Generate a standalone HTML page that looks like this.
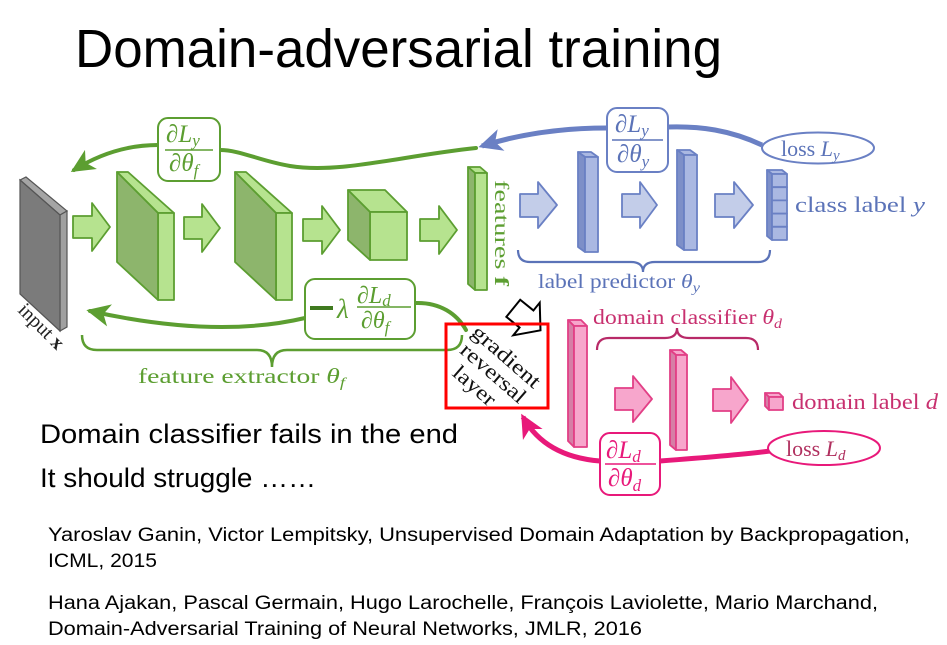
<!DOCTYPE html>
<html><head><meta charset="utf-8"><style>
html,body{margin:0;padding:0;background:#fff;}
svg{display:block;}
.s{font-family:"Liberation Sans",sans-serif;fill:#000;}
.m{font-family:"Liberation Serif",serif;}
.i{font-style:italic;}
</style></head><body>
<svg width="947" height="645" viewBox="0 0 947 645" xmlns="http://www.w3.org/2000/svg">
<defs>
<marker id="ag" markerUnits="userSpaceOnUse" markerWidth="30" markerHeight="30" refX="0" refY="0" viewBox="-20 -12 24 24" orient="auto"><path d="M3,0 L-16,-9 L-11,0 L-16,9 Z" fill="#5c9e31"/></marker>
<marker id="ab" markerUnits="userSpaceOnUse" markerWidth="30" markerHeight="30" refX="0" refY="0" viewBox="-20 -12 24 24" orient="auto"><path d="M3,0 L-16,-9 L-11,0 L-16,9 Z" fill="#6a80c4"/></marker>
<marker id="ap" markerUnits="userSpaceOnUse" markerWidth="30" markerHeight="30" refX="0" refY="0" viewBox="-20 -12 24 24" orient="auto"><path d="M3,0 L-16,-9 L-11,0 L-16,9 Z" fill="#e8197a"/></marker>
</defs>

<!-- Title -->
<text class="s" x="75" y="67" font-size="54" textLength="647" lengthAdjust="spacingAndGlyphs">Domain-adversarial training</text>

<!-- input plate -->
<polygon points="20,180 26,177 67,211 60,215" fill="#a5a5a5" stroke="#555" stroke-width="1.2"/>
<polygon points="60,215 67,211 67,327 60,331" fill="#a0a0a0" stroke="#555" stroke-width="1.2"/>
<polygon points="20,180 60,215 60,331 20,294" fill="#7b7b7b" stroke="#555" stroke-width="1.2"/>
<text class="m" transform="translate(17,311) rotate(45)" font-size="20" fill="#222">input <tspan font-weight="bold">x</tspan></text>

<!-- green blocks -->
<g stroke="#5c9e31" stroke-width="1.8" stroke-linejoin="round">
<polygon points="117,172 128,172 174,213 158,213" fill="#b6e38f"/>
<polygon points="158,213 174,213 174,300 158,300" fill="#b6e38f"/>
<polygon points="117,172 158,213 158,300 117,262" fill="#8db56c"/>
<polygon points="235,172 246,172 292,213 276,213" fill="#b6e38f"/>
<polygon points="276,213 292,213 292,300 276,300" fill="#b6e38f"/>
<polygon points="235,172 276,213 276,300 235,262" fill="#8db56c"/>
<polygon points="348,190 385,190 407,212 370,212" fill="#b6e38f"/>
<polygon points="370,212 407,212 407,260 370,260" fill="#b6e38f"/>
<polygon points="348,190 370,212 370,260 348,240" fill="#8db56c"/>
<!-- feature bar -->
<polygon points="468,167 480,167 487,173 475,173" fill="#b6e38f"/>
<polygon points="468,167 475,173 475,290 468,284" fill="#8db56c"/>
<polygon points="475,173 487,173 487,290 475,290" fill="#b6e38f"/>
<!-- green arrows -->
<polygon points="73,216 92,216 92,203 110,227 92,251 92,238 73,238" fill="#b6e38f"/>
<polygon points="184,217 202,217 202,204 220,228 202,252 202,239 184,239" fill="#b6e38f"/>
<polygon points="303,219 322,219 322,206 340,230 322,254 322,241 303,241" fill="#b6e38f"/>
<polygon points="420,219 439,219 439,206 457,230 439,254 439,241 420,241" fill="#b6e38f"/>
</g>
<text class="m" transform="translate(495,180) rotate(90)" font-size="20" fill="#5c9e31" textLength="106" lengthAdjust="spacingAndGlyphs">features <tspan font-weight="bold">f</tspan></text>

<!-- green backprop curves -->
<g fill="none" stroke="#5c9e31" stroke-width="4" stroke-linecap="round">
<path d="M476,148 C400,156 340,174 290,166 C260,161 240,150 220,150"/>
<path d="M158,145 C125,145 98,155 74,170" marker-end="url(#ag)"/>
<path d="M305,318 C250,331 180,331 90,311" marker-end="url(#ag)"/>
<path d="M415,303 C440,302 457,314 466,330"/>
</g>
<rect x="158" y="118" width="62" height="63" rx="10" fill="#fff" stroke="#5c9e31" stroke-width="2"/>
<g class="m" fill="#5c9e31">
<text x="166" y="142" font-size="25"><tspan>∂</tspan><tspan class="i">L</tspan><tspan class="i" font-size="17" dy="4">y</tspan></text>
<line x1="165" y1="150" x2="213" y2="150" stroke="#5c9e31" stroke-width="1.5"/>
<text x="169" y="171" font-size="25"><tspan>∂</tspan><tspan class="i">θ</tspan><tspan class="i" font-size="17" dy="5">f</tspan></text>
</g>
<rect x="305" y="279" width="110" height="60" rx="10" fill="#fff" stroke="#5c9e31" stroke-width="2"/>
<g class="m" fill="#5c9e31">
<rect x="310" y="306" width="23" height="4" fill="#3f7a1f"/>
<text x="337" y="318" font-size="27" class="i">λ</text>
<text x="357" y="303" font-size="24"><tspan>∂</tspan><tspan class="i">L</tspan><tspan class="i" font-size="17" dy="3">d</tspan></text>
<line x1="357" y1="307" x2="411" y2="307" stroke="#5c9e31" stroke-width="1.5"/>
<text x="361" y="328" font-size="24"><tspan>∂</tspan><tspan class="i">θ</tspan><tspan class="i" font-size="17" dy="5">f</tspan></text>
</g>

<!-- green brace -->
<path d="M82,335 Q82,350 97,350 L257,350 Q272,350 272,367 Q272,350 287,350 L447,350 Q462,350 462,335" fill="none" stroke="#5c9e31" stroke-width="2.5"/>
<text class="m" x="138" y="383" font-size="21" fill="#5c9e31" textLength="207" lengthAdjust="spacingAndGlyphs">feature extractor <tspan class="i">θ</tspan><tspan class="i" font-size="14" dy="4">f</tspan></text>

<!-- blue part -->
<g stroke="#6a80c4" stroke-width="1.8" stroke-linejoin="round">
<polygon points="520,194 538,194 538,182 557,205 538,228 538,217 520,217" fill="#c3cde9"/>
<polygon points="622,194 640,194 640,182 657,205 640,228 640,217 622,217" fill="#c3cde9"/>
<polygon points="715,194 734,194 734,182 753,205 734,228 734,217 715,217" fill="#c3cde9"/>
<polygon points="578,152 591,152 598,157 585,157" fill="#aab8e2"/>
<polygon points="578,152 585,157 585,252 578,247" fill="#7d8fc8"/>
<polygon points="585,157 598,157 598,252 585,252" fill="#aab8e2"/>
<polygon points="677,150 690,150 697,155 684,155" fill="#aab8e2"/>
<polygon points="677,150 684,155 684,250 677,245" fill="#7d8fc8"/>
<polygon points="684,155 697,155 697,250 684,250" fill="#aab8e2"/>
<polygon points="767,170 782,170 787,174 772,174" fill="#aab8e2"/>
<polygon points="767,170 772,174 772,240 767,236" fill="#7d8fc8"/>
<rect x="772" y="174" width="15" height="13.2" fill="#aab8e2"/>
<rect x="772" y="187.2" width="15" height="13.2" fill="#aab8e2"/>
<rect x="772" y="200.4" width="15" height="13.2" fill="#aab8e2"/>
<rect x="772" y="213.6" width="15" height="13.2" fill="#aab8e2"/>
<rect x="772" y="226.8" width="15" height="13.2" fill="#aab8e2"/>
</g>
<text class="m" x="795" y="212" font-size="22" fill="#5b73b8" textLength="130" lengthAdjust="spacingAndGlyphs">class label <tspan class="i">y</tspan></text>
<path d="M762,145 C730,130 700,126 668,127" fill="none" stroke="#6a80c4" stroke-width="5"/>
<path d="M607,128 C560,128 520,134 482,146" fill="none" stroke="#6a80c4" stroke-width="5" marker-end="url(#ab)"/>
<rect x="607" y="108" width="61" height="64" rx="10" fill="#fff" stroke="#6a80c4" stroke-width="2"/>
<g class="m" fill="#5b73b8">
<text x="615" y="132" font-size="25"><tspan>∂</tspan><tspan class="i">L</tspan><tspan class="i" font-size="17" dy="4">y</tspan></text>
<line x1="612" y1="140" x2="663" y2="140" stroke="#5b73b8" stroke-width="1.5"/>
<text x="617" y="162" font-size="25"><tspan>∂</tspan><tspan class="i">θ</tspan><tspan class="i" font-size="17" dy="5">y</tspan></text>
</g>
<ellipse cx="818" cy="148" rx="56" ry="15.5" fill="#fff" stroke="#6a80c4" stroke-width="2"/>
<text class="m" x="781" y="156" font-size="22" fill="#5b73b8">loss <tspan class="i">L</tspan><tspan class="i" font-size="15" dy="4">y</tspan></text>
<path d="M518,250 Q518,262 530,262 L631,262 Q643,262 643,272 Q643,262 655,262 L758,262 Q770,262 770,250" fill="none" stroke="#5b73b8" stroke-width="2.2"/>
<text class="m" x="538" y="288" font-size="20" fill="#5b73b8" textLength="162" lengthAdjust="spacingAndGlyphs">label predictor <tspan class="i">θ</tspan><tspan class="i" font-size="14" dy="4">y</tspan></text>

<!-- pink part -->
<g stroke="#e23f86" stroke-width="1.8" stroke-linejoin="round">
<polygon points="568,320 581,320 587,326 574,326" fill="#f7a6cc"/>
<polygon points="568,320 574,326 574,447 568,441" fill="#d67ea6"/>
<polygon points="574,326 587,326 587,447 574,447" fill="#f7a6cc"/>
<polygon points="670,350 681,350 687,355 676,355" fill="#f7a6cc"/>
<polygon points="670,350 676,355 676,450 670,445" fill="#d67ea6"/>
<polygon points="676,355 687,355 687,450 676,450" fill="#f7a6cc"/>
<polygon points="615,388 633,388 633,376 652,399 633,422 633,410 615,410" fill="#f7a6cc"/>
<polygon points="713,389 731,389 731,377 748,400 731,423 731,411 713,411" fill="#f7a6cc"/>
<polygon points="765,393 779,393 783,397 769,397" fill="#f7a6cc"/>
<polygon points="765,393 769,397 769,410 765,406" fill="#d67ea6"/>
<rect x="769" y="397" width="14" height="13" fill="#f7a6cc"/>
</g>
<text class="m" x="593" y="324" font-size="21" fill="#c8306f" textLength="189" lengthAdjust="spacingAndGlyphs">domain classifier <tspan class="i">θ</tspan><tspan class="i" font-size="14" dy="4">d</tspan></text>
<path d="M597,350 Q597,338 609,338 L665,338 Q677,338 677,328 Q677,338 689,338 L746,338 Q758,338 758,350" fill="none" stroke="#b82a68" stroke-width="2.2"/>
<text class="m" x="792" y="409" font-size="22" fill="#c8306f" textLength="146" lengthAdjust="spacingAndGlyphs">domain label <tspan class="i">d</tspan></text>
<path d="M770,451 C740,455 700,458 660,461" fill="none" stroke="#e8197a" stroke-width="5"/>
<path d="M600,461 C562,458 537,442 523,417" fill="none" stroke="#e8197a" stroke-width="5" marker-end="url(#ap)"/>
<rect x="600" y="433" width="60" height="62" rx="10" fill="#fff" stroke="#e8197a" stroke-width="2"/>
<g class="m" fill="#e8197a">
<text x="606" y="458" font-size="25"><tspan>∂</tspan><tspan class="i">L</tspan><tspan class="i" font-size="17" dy="4">d</tspan></text>
<line x1="605" y1="464" x2="656" y2="464" stroke="#e8197a" stroke-width="1.5"/>
<text x="608" y="486" font-size="25"><tspan>∂</tspan><tspan class="i">θ</tspan><tspan class="i" font-size="17" dy="5">d</tspan></text>
</g>
<ellipse cx="824" cy="448" rx="56" ry="17" fill="#fff" stroke="#e8197a" stroke-width="2"/>
<text class="m" x="786" y="456" font-size="22" fill="#b0305f">loss <tspan class="i">L</tspan><tspan class="i" font-size="15" dy="4">d</tspan></text>

<!-- hollow black arrow -->
<polygon transform="translate(526.5,319) rotate(39)" points="-17,-11 0,-11 0,-21 18,0 0,21 0,11 -17,11" fill="#fff" stroke="#000" stroke-width="2" stroke-linejoin="miter"/>

<!-- gradient reversal layer -->
<g class="m" font-size="21" fill="#111" transform="translate(497,372) rotate(41)" text-anchor="middle">
<text x="-3" y="-11" textLength="84" lengthAdjust="spacingAndGlyphs">gradient</text>
<text x="-2" y="10" textLength="80" lengthAdjust="spacingAndGlyphs">reversal</text>
<text x="-8" y="32" textLength="50" lengthAdjust="spacingAndGlyphs">layer</text>
</g>
<rect x="446" y="324" width="102" height="84" fill="none" stroke="#ff0000" stroke-width="3"/>

<!-- slide text -->
<text class="s" x="40" y="443" font-size="27" textLength="418" lengthAdjust="spacingAndGlyphs">Domain classifier fails in the end</text>
<text class="s" x="40" y="487" font-size="27" textLength="276" lengthAdjust="spacingAndGlyphs">It should struggle ……</text>
<text class="s" x="48" y="541" font-size="19" textLength="862" lengthAdjust="spacingAndGlyphs">Yaroslav Ganin, Victor Lempitsky, Unsupervised Domain Adaptation by Backpropagation,</text>
<text class="s" x="48" y="567" font-size="19" textLength="109" lengthAdjust="spacingAndGlyphs">ICML, 2015</text>
<text class="s" x="48" y="609" font-size="19" textLength="830" lengthAdjust="spacingAndGlyphs">Hana Ajakan, Pascal Germain, Hugo Larochelle, François Laviolette, Mario Marchand,</text>
<text class="s" x="48" y="635" font-size="19" textLength="594" lengthAdjust="spacingAndGlyphs">Domain-Adversarial Training of Neural Networks, JMLR, 2016</text>
</svg>
</body></html>
